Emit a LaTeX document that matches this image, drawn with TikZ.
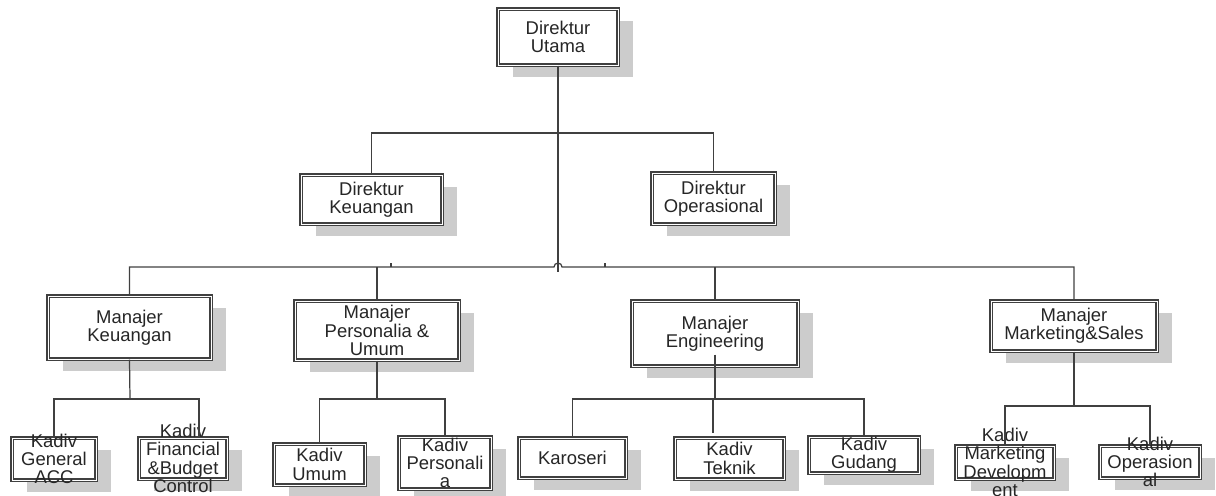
\documentclass[tikz,border=0pt]{standalone}
\usepackage{fontspec}
\setmainfont{Liberation Sans}
\usetikzlibrary{shadows}

\begin{document}
\begin{tikzpicture}[x=0.02cm, y=0.02cm, font=\fontsize{10.5}{10.4}\selectfont, text=black!85]
  \tikzstyle{box} = [rectangle, inner sep=0pt, align=center, fill=white,
    draw=black!75, line width=0.8pt, double=white, double distance=0.55pt,
    drop shadow={shadow xshift=0.3cm, shadow yshift=-0.24cm, fill=gray!40, opacity=1}]
  \tikzstyle{kadiv_text} = [align=center, inner sep=0pt]
  \tikzstyle{link} = [draw=black!75, line width=0.7pt]

  \useasboundingbox (0,0) rectangle (1216,-495);

  % Draw direksi
  \node[box, minimum width=2.4cm, minimum height=1.12cm] (utama) at (558,-37) {Direktur\\Utama};
  \node[box, minimum width=2.82cm, minimum height=0.98cm] (dir_keu) at (371.5,-199.5) {Direktur\\Keuangan};
  \node[box, minimum width=2.46cm, minimum height=1.02cm] (dir_ops) at (713.5,-198.5) {Direktur\\Operasional};

  % Draw manajer
  \node[box, minimum width=3.26cm, minimum height=1.26cm] (mgr_keu) at (129.5,-327.5) {Manajer\\Keuangan};
  \node[box, minimum width=3.28cm, minimum height=1.18cm] (mgr_pers) at (377,-330.5) {Manajer\\Personalia \&\\Umum};
  \node[box, minimum width=3.32cm, minimum height=1.3cm] (mgr_eng) at (715,-333.5) {Manajer\\Engineering};
  \node[box, minimum width=3.32cm, minimum height=1cm] (mgr_mkt) at (1074,-326) {Manajer\\Marketing\&Sales};

  % Draw kadiv
  \foreach \name/\x/\y/\w/\h/\txt in {
      kdv_gen/54/459/84/42/{Kadiv\\General\\ACC},
      kdv_fin/183/458.5/88/41/{Kadiv\\Financial\\\&Budget\\Control},
      kdv_umum/319.5/464.5/91/41/{Kadiv\\Umum},
      kdv_pers/445/463/92/52/{Kadiv\\Personali\\a},
      karoseri/572.5/458/107/40/{Karoseri},
      kdv_tek/729.5/458.5/109/41/{Kadiv\\Teknik},
      kdv_gud/864/455/110/36/{Kadiv\\Gudang},
      kdv_mdev/1005/462.5/98/33/{Kadiv\\Marketing\\Developm\\ent},
      kdv_ops/1150/462/100/32/{Kadiv\\Operasion\\al}}
    {
    \node[box, minimum width=\w*0.02cm, minimum height=\h*0.02cm] (\name) at (\x,-\y) {};
    \node[kadiv_text] (\name_t) at (\name) {\txt};
    }

  % Connections
  \coordinate (dir_bus) at (558,-133);
  \coordinate (hop) at (554,-267);
  \coordinate (utama_end) at (558,-272);
  \draw[link] (utama.south) -- (utama_end);
  \draw[link] (dir_keu.north) |- (dir_bus) -| (dir_ops.north);
  \draw[link] (mgr_keu.north) |- (hop) arc (180:0:4) -| (mgr_mkt.north);
  \draw[link] (mgr_pers.north) -- (mgr_pers.north |- hop);
  \draw[link] (mgr_eng.north) -- (mgr_eng.north |- hop);
  \draw[link] (391,-267) -- (391,-263);
  \draw[link] (605,-267) -- (605,-263);

  \coordinate (keu_bus) at (130,-399);
  \coordinate (pers_bus) at (377,-399);
  \coordinate (eng_bus) at (715,-399);
  \coordinate (mkt_bus) at (1074,-406);
  \coordinate (tek_in) at (713,-433);

  \draw[link] (mgr_keu.south) -- (keu_bus);
  \draw[link] (kdv_gen.north) |- (keu_bus) -| ([xshift=0.32cm]kdv_fin.north);
  \draw[link] (mgr_pers.south) -- (pers_bus);
  \draw[link] (kdv_umum.north) |- (pers_bus) -| (kdv_pers.north);
  \draw[link] ([yshift=0.24cm]mgr_eng.south) -- (eng_bus);
  \draw[link] (karoseri.north) |- (eng_bus) -| (kdv_gud.north);
  \draw[link] (tek_in |- eng_bus) -- (tek_in);
  \draw[link] (mgr_mkt.south) -- (mkt_bus);
  \draw[link] (kdv_mdev.north) |- (mkt_bus) -| (kdv_ops.north);

\end{tikzpicture}
\end{document}
